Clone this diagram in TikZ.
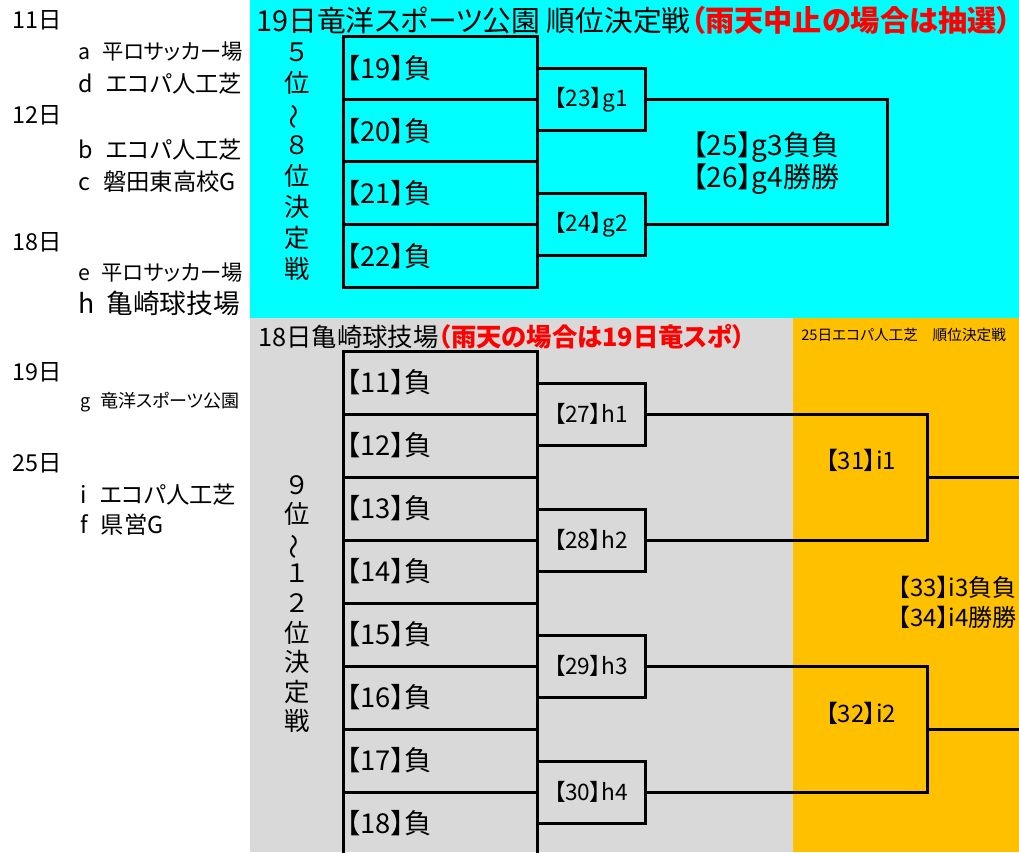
\documentclass[tikz,border=0pt]{standalone}
\usepackage{fontspec}
\setmainfont{Noto Sans CJK JP}[RawFeature=+palt]
\usetikzlibrary{positioning}
\definecolor{bgcyan}{HTML}{00FFFF}
\definecolor{bggray}{HTML}{D9D9D9}
\definecolor{bgorange}{HTML}{FFC000}
\definecolor{rainred}{HTML}{FF0000}
\tikzset{
  loser/.style={rectangle, draw, line width=2.25pt, outer sep=0pt,
    minimum width=145.5pt, text width=140pt, align=left, inner xsep=2pt,
    font=\fontsize{20.5}{24}\selectfont},
  winner/.style={rectangle, draw, line width=2.25pt, outer sep=0pt,
    minimum width=81pt, minimum height=46.5pt, inner sep=1pt,
    font=\fontsize{17}{20}\selectfont},
  link/.style={line width=2.25pt},
  day/.style={anchor=west, inner sep=0pt, font=\fontsize{17.5}{20}\selectfont},
  venue/.style={anchor=west, inner sep=0pt, font=\fontsize{17.5}{20}\selectfont},
  rank/.style={align=center, inner sep=0pt},
  result/.style={align=center, inner sep=0pt, font=\fontsize{18}{22.5}\selectfont}
}
\newcommand{\vtilde}{\rotatebox[origin=c]{90}{～}}
\newcommand{\gap}{\hspace{0.55em}}

\begin{document}
\begin{tikzpicture}[x=0.75pt, y=-0.75pt]
  \fill[white] (0,0) rectangle (1019,852);
  \useasboundingbox (0,0) rectangle (1019,852);
  % backgrounds
  \fill[bgcyan] (250,0) rectangle (1019,318);
  \fill[bggray] (250,318) rectangle (793,852);
  \fill[bgorange] (793,318) rectangle (1019,852);

  % schedule
  \node[day] (d11) at (12,20) {11日};
  \node[venue, font=\fontsize{16}{19}\selectfont] (va) at (78,52) {a\gap 平ロサッカー場};
  \node[venue] (vd) at (78,84) {d\gap エコパ人工芝};
  \node[day] (d12) at (12,115) {12日};
  \node[venue] (vb) at (78,150) {b\gap エコパ人工芝};
  \node[venue] (vc) at (78,182) {c\gap 磐田東高校G};
  \node[day] (d18) at (12,242) {18日};
  \node[venue, font=\fontsize{16}{19}\selectfont] (ve) at (78,273) {e\gap 平ロサッカー場};
  \node[venue, font=\fontsize{20}{23}\selectfont] (vh) at (78,303) {h\hspace{0.45em}亀崎球技場};
  \node[day] (d19) at (12,372) {19日};
  \node[venue, font=\fontsize{13.5}{16}\selectfont] (vg) at (80,402) {g\gap 竜洋スポーツ公園};
  \node[day] (d25) at (12,463) {25日};
  \node[venue] (vi) at (80,495) {i\gap エコパ人工芝};
  \node[venue] (vf) at (80,525) {f\gap 県営G};

  % headings
  \node[anchor=west, inner sep=0pt, font=\fontsize{21.6}{26}\selectfont] (ttl58) at (256,20)
    {19日竜洋スポーツ公園 順位決定戦\textcolor{rainred}{\fontsize{21.9}{26}\selectfont\bfseries （雨天中止の場合は抽選）}};
  \node[anchor=west, inner sep=0pt, font=\fontsize{19}{23}\selectfont] (ttl912) at (258,337)
    {18日亀崎球技場\textcolor{rainred}{\bfseries （雨天の場合は19日竜スポ）}};
  \node[anchor=west, inner sep=0pt, font=\fontsize{11}{13}\selectfont] (ttlfin) at (801,335)
    {25日エコパ人工芝　順位決定戦};

  % 5-8
  \node[rank, font=\fontsize{19}{23.25}\selectfont] (rank58) at (297,162)
    {５\\位\\\vtilde\\８\\位\\決\\定\\戦};
  \node[loser, minimum height=46.875pt] (r19) at (440,68.25) {【19】負};
  \node[loser, minimum height=46.875pt, below=0pt of r19] (r20) {【20】負};
  \node[loser, minimum height=46.875pt, below=0pt of r20] (r21) {【21】負};
  \node[loser, minimum height=46.875pt, below=0pt of r21] (r22) {【22】負};
  \node[winner, right=0pt of r19.south east] (g1) {【23】g1};
  \node[winner, right=0pt of r21.south east] (g2) {【24】g2};
  \coordinate (g34) at (887,162);
  \draw[link] (g1.east) -| (g34) |- (g2.east);
  \node[result, font=\fontsize{21}{23}\selectfont] (g34t) at (766,163) {【25】g3負負\\【26】g4勝勝};

  % 9-12
  \node[rank, font=\fontsize{19}{22.2}\selectfont] (rank912) at (297,604)
    {９\\位\\\vtilde\\１\\２\\位\\決\\定\\戦};
  \node[loser, minimum height=47.25pt] (r11) at (440,382.5) {【11】負};
  \node[loser, minimum height=47.25pt, below=0pt of r11] (r12) {【12】負};
  \node[loser, minimum height=47.25pt, below=0pt of r12] (r13) {【13】負};
  \node[loser, minimum height=47.25pt, below=0pt of r13] (r14) {【14】負};
  \node[loser, minimum height=47.25pt, below=0pt of r14] (r15) {【15】負};
  \node[loser, minimum height=47.25pt, below=0pt of r15] (r16) {【16】負};
  \node[loser, minimum height=47.25pt, below=0pt of r16] (r17) {【17】負};
  \node[loser, minimum height=47.25pt, below=0pt of r17] (r18) {【18】負};
  \node[winner, right=0pt of r11.south east] (h1) {【27】h1};
  \node[winner, right=0pt of r13.south east] (h2) {【28】h2};
  \node[winner, right=0pt of r15.south east] (h3) {【29】h3};
  \node[winner, right=0pt of r17.south east] (h4) {【30】h4};

  % final round
  \coordinate (i1) at (927,477);
  \coordinate (i1out) at (1025,477);
  \draw[link] (h1.east) -| (i1) |- (h2.east);
  \draw[link] (i1) -- (i1out);
  \node[result] (i1t) at (861,460) {【31】i1};
  \coordinate (i2) at (927,729);
  \coordinate (i2out) at (1025,729);
  \draw[link] (h3.east) -| (i2) |- (h4.east);
  \draw[link] (i2) -- (i2out);
  \node[result] (i2t) at (861,713) {【32】i2};
  \node[result, align=right, anchor=east] (i34t) at (1017,602) {【33】i3負負\\【34】i4勝勝};
\end{tikzpicture}
\end{document}
